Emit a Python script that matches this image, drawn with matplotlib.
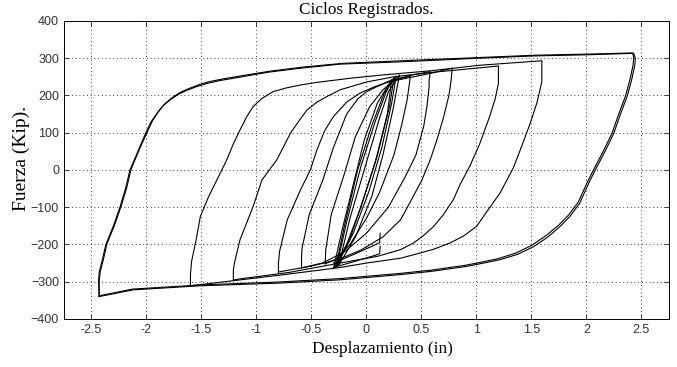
import matplotlib
matplotlib.use('Agg')
import matplotlib.pyplot as plt

# ciclo mayor (+/-2.45 in)
ciclo1_x = [-2.43, -2.435, -2.43, -2.40, -2.37, -2.30, -2.24, -2.19, -2.15, -2.07, -2.005, -1.96,
            -1.905, -1.85, -1.785, -1.71, -1.63, -1.54, -1.45, -1.33, -1.21, -0.90, -0.60, -0.24,
            0.30, 1.03, 1.52, 2.00, 2.43, 2.445, 2.44, 2.41, 2.37, 2.31, 2.25, 2.17, 2.09, 2.03,
            1.94, 1.85, 1.76, 1.65, 1.52, 1.38, 1.215, 1.05, 0.91, 0.60, 0.31, -0.24, -0.80,
            -1.51, -2.12, -2.43]
ciclo1_y = [-340, -300, -275, -240, -201, -150, -99, -50, 0, 55, 100, 128,
            152, 172, 188, 203, 214, 224, 232, 240, 246, 262, 273, 284,
            290, 300, 306, 309, 313, 300, 281, 240, 197, 150, 99, 50, 5, -30,
            -89, -125, -152, -180, -206, -226, -241, -251, -259, -272, -281, -295, -304,
            -311, -322, -340]

# repeticion del ciclo mayor
ciclo1b_x = [-2.43, -2.43, -2.42, -2.39, -2.36, -2.29, -2.23, -2.18, -2.14, -2.06, -1.99, -1.945,
             -1.89, -1.835, -1.77, -1.695, -1.61, -1.52, -1.43, -1.31, -1.19, -0.88, -0.58, -0.22,
             0.32, 1.05, 1.54, 2.02, 2.42, 2.43, 2.425, 2.395, 2.355, 2.295, 2.235, 2.155, 2.075, 2.015,
             1.925, 1.835, 1.745, 1.635, 1.50, 1.36, 1.20, 1.04, 0.90, 0.59, 0.30, -0.25, -0.81,
             -1.52, -2.13, -2.43]
ciclo1b_y = [-338, -298, -273, -238, -199, -148, -97, -48, 2, 58, 104, 132,
             157, 177, 193, 208, 219, 229, 237, 244, 250, 265, 276, 286,
             293, 302, 308, 311, 314, 301, 282, 241, 198, 151, 100, 51, 6, -29,
             -87, -122, -149, -176, -203, -223, -238, -248, -256, -269, -278, -292, -301,
             -309, -320, -338]

# ciclo +/-1.6 in
ciclo2_x = [-1.60, -1.60, -1.59, -1.55, -1.51, -1.44, -1.36, -1.27, -1.21, -1.15, -1.09, -1.03,
            -0.95, -0.85, -0.73, -0.60, -0.45, -0.15, 0.15, 0.58, 1.03, 1.595, 1.595, 1.595,
            1.57, 1.55, 1.49, 1.42, 1.335, 1.215, 1.10, 1.00, 0.88, 0.76, 0.62, 0.49, 0.31,
            0.00, -0.24, -0.80, -1.20, -1.60]
ciclo2_y = [-311, -280, -246, -190, -125, -75, -27, 27, 70, 107, 142, 170,
            192, 210, 220, 228, 235, 246, 255, 266, 281, 293, 260, 237,
            205, 180, 126, 70, 5, -62, -110, -152, -178, -196, -212, -223, -237,
            -250, -262, -283, -297, -311]

# ciclo +/-1.2 in
ciclo3_x = [-1.21, -1.21, -1.20, -1.15, -1.03, -0.95, -0.815, -0.69, -0.61, -0.54, -0.45, -0.36,
            -0.24, 0.00, 0.25, 0.60, 1.03, 1.20, 1.20, 1.20, 1.17, 1.12, 1.03, 0.94, 0.85,
            0.79, 0.70, 0.61, 0.52, 0.43, 0.31, 0.10, -0.24, -0.70, -1.21]
ciclo3_y = [-295, -270, -250, -188, -98, -27, 27, 99, 133, 161, 182, 197,
            215, 236, 250, 262, 274, 279, 260, 232, 190, 143, 70, 10, -40,
            -80, -120, -152, -176, -196, -214, -232, -250, -275, -295]

# ciclo +/-0.8 in
ciclo4_x = [-0.80, -0.80, -0.79, -0.72, -0.60, -0.51, -0.45, -0.38, -0.30, -0.18, -0.06, 0.08,
            0.21, 0.58, 0.78, 0.77, 0.75, 0.70, 0.64, 0.58, 0.50, 0.40, 0.31, 0.15, -0.05,
            -0.25, -0.50, -0.80]
ciclo4_y = [-274, -250, -219, -134, -54, 0, 54, 105, 143, 182, 206, 224,
            237, 259, 273, 240, 200, 140, 80, 27, -30, -85, -134, -180, -215,
            -240, -258, -274]

# ciclo +/-0.58 in
ciclo5_x = [-0.59, -0.59, -0.585, -0.52, -0.40, -0.30, -0.18, -0.08, 0.00, 0.20, 0.40, 0.58,
            0.57, 0.57, 0.55, 0.52, 0.45, 0.35, 0.20, 0.00, -0.20, -0.40, -0.59]
ciclo5_y = [-263, -235, -210, -120, -30, 60, 150, 190, 210, 238, 254, 264,
            240, 223, 170, 116, 40, -20, -100, -170, -220, -250, -263]

# ciclo +/-0.38 in
ciclo6_x = [-0.375, -0.37, -0.32, -0.20, -0.10, 0.03, 0.15, 0.25, 0.40,
            0.39, 0.37, 0.32, 0.25, 0.12, 0.00, -0.15, -0.28, -0.375]
ciclo6_y = [-252, -215, -120, -10, 90, 170, 215, 240, 252,
            230, 188, 120, 40, -60, -130, -200, -240, -252]

# ciclos elasticos del nucleo
ciclo7_x = [-0.28, -0.20, -0.08, 0.05, 0.16, 0.27, 0.23, 0.14, 0.02, -0.12, -0.28]
ciclo7_y = [-262, -150, 0, 120, 205, 252, 180, 60, -60, -170, -262]
ciclo8_x = [-0.25, -0.15, 0.00, 0.12, 0.20, 0.30, 0.24, 0.15, 0.05, -0.10, -0.25]
ciclo8_y = [-255, -130, 20, 140, 210, 255, 160, 40, -70, -180, -255]
ciclo9_x = [-0.30, -0.22, -0.12, -0.02, 0.10, 0.23, 0.19, 0.08, -0.05, -0.18, -0.30]
ciclo9_y = [-265, -160, -40, 80, 180, 243, 150, 20, -100, -200, -265]
ciclo10_x = [-0.27, -0.18, -0.05, 0.08, 0.18, 0.25, 0.21, 0.10, -0.03, -0.15, -0.27]
ciclo10_y = [-258, -140, 10, 130, 210, 248, 170, 40, -80, -185, -258]

# ramas con inversion en 0.12 in
rama1_x = [-0.30, -0.10, 0.05, 0.12, 0.125]
rama1_y = [-250, -225, -205, -195, -170]
rama2_x = [-0.30, -0.10, 0.05, 0.12, 0.125]
rama2_y = [-262, -245, -232, -225, -205]

ciclos = [
    (ciclo1_x, ciclo1_y), (ciclo1b_x, ciclo1b_y), (ciclo2_x, ciclo2_y), (ciclo3_x, ciclo3_y),
    (ciclo4_x, ciclo4_y), (ciclo5_x, ciclo5_y), (ciclo6_x, ciclo6_y), (ciclo7_x, ciclo7_y),
    (ciclo8_x, ciclo8_y), (ciclo9_x, ciclo9_y), (ciclo10_x, ciclo10_y),
    (rama1_x, rama1_y), (rama2_x, rama2_y),
]

xticks = [-2.5, -2, -1.5, -1, -0.5, 0, 0.5, 1, 1.5, 2, 2.5]
yticks = [-400, -300, -200, -100, 0, 100, 200, 300, 400]

plt.rcParams['font.family'] = ['Liberation Sans', 'DejaVu Sans']

fig = plt.figure(figsize=(6.77, 3.67), dpi=100)
ax = fig.add_axes([0.0945, 0.131, 0.8935, 0.812])

for xs, ys in ciclos:
    ax.plot(xs, ys, color='k', linewidth=0.8, solid_joinstyle='round')

ax.set_xlim(-2.75, 2.75)
ax.set_ylim(-400, 400)
ax.set_xticks(xticks)
ax.set_xticklabels([f'{t:g}' for t in xticks])
ax.set_yticks(yticks)
ax.grid(True, color='k', linestyle=(0, (1, 3.5)), linewidth=0.6)
ax.tick_params(direction='in', top=True, right=True, length=3.5, width=0.6,
               labelsize=9, colors='#222222', labelcolor='#333333')
for s in ax.spines.values():
    s.set_linewidth(0.7)

serif = ['Liberation Serif', 'DejaVu Serif']
ax.set_title('Ciclos Registrados.', family=serif, fontsize=12.4, pad=5)
ax.set_xlabel('Desplazamiento (in)', family=serif, fontsize=12.4, labelpad=2)
ax.set_ylabel('Fuerza (Kip).', family=serif, fontsize=14, labelpad=1)
ax.xaxis.set_label_coords(0.527, -0.075)
ax.yaxis.set_label_coords(-0.056, 0.54)

fig.savefig('out.png', dpi=100)
plt.close(fig)
